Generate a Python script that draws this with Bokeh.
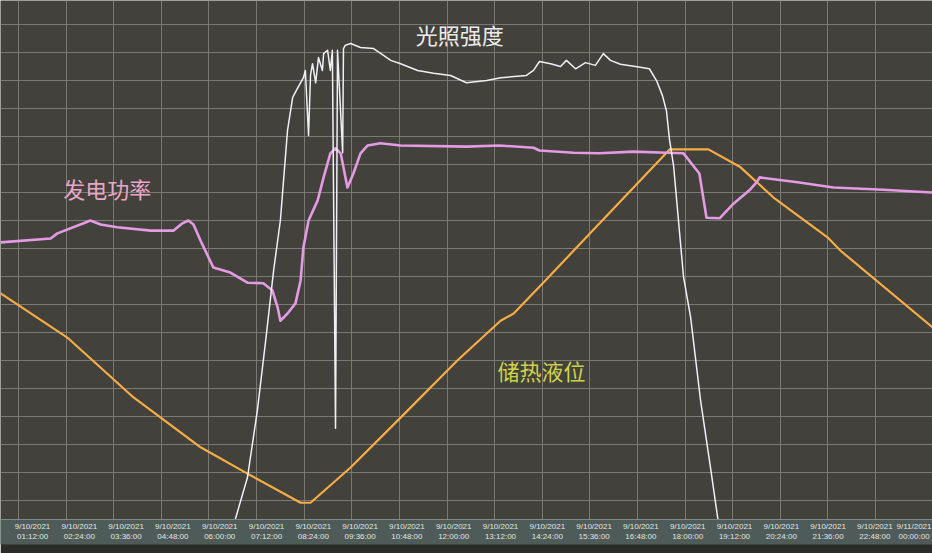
from bokeh.plotting import figure
from bokeh.models import Range1d, FixedTicker, Grid, Label
from bokeh.embed import file_html
from bokeh.resources import INLINE

# ---- time axis (hours since 9/10/2021 00:00) ----
tick_hours = [1.2, 2.4, 3.6, 4.8, 6.0, 7.2, 8.4, 9.6, 10.8, 12.0, 13.2, 14.4,
              15.6, 16.8, 18.0, 19.2, 20.4, 21.6, 22.8, 24.0]
tick_labels = ["9/10/2021\n01:12:00", "9/10/2021\n02:24:00", "9/10/2021\n03:36:00",
               "9/10/2021\n04:48:00", "9/10/2021\n06:00:00", "9/10/2021\n07:12:00",
               "9/10/2021\n08:24:00", "9/10/2021\n09:36:00", "9/10/2021\n10:48:00",
               "9/10/2021\n12:00:00", "9/10/2021\n13:12:00", "9/10/2021\n14:24:00",
               "9/10/2021\n15:36:00", "9/10/2021\n16:48:00", "9/10/2021\n18:00:00",
               "9/10/2021\n19:12:00", "9/10/2021\n20:24:00", "9/10/2021\n21:36:00",
               "9/10/2021\n22:48:00", "9/11/2021\n00:00:00"]

# ---- 光照强度 (irradiance, % of screen scale) ----
sun_t = [6.62, 6.67, 6.97, 7.22, 7.43, 7.63, 7.80, 7.98, 8.11, 8.23, 8.38, 8.43,
         8.51, 8.56, 8.61, 8.69, 8.76, 8.86, 8.89, 8.99, 9.06, 9.11, 9.19, 9.24,
         9.37, 9.39, 9.44, 9.57, 9.82, 10.15, 10.40, 10.58, 10.83, 11.26, 11.66,
         12.09, 12.49, 13.00, 13.35, 14.00, 14.18, 14.33, 14.61, 14.86, 15.01,
         15.24, 15.49, 15.74, 15.94, 16.12, 16.37, 16.75, 17.10, 17.28, 17.43,
         17.53, 17.61, 17.71, 17.96, 18.14, 18.39, 18.64, 18.82, 18.90]
sun_v = [-5.0, -3.2, 4.1, 16.1, 28.6, 41.1, 50.0, 66.1, 72.0, 73.6, 75.5, 76.8,
         65.2, 76.0, 78.0, 74.6, 79.1, 76.8, 79.8, 80.4, 76.8, 80.4, 12.9, 80.4,
         62.1, 80.7, 81.3, 81.6, 80.9, 80.7, 79.5, 78.6, 78.0, 76.8, 76.3,
         75.9, 74.6, 75.0, 75.5, 75.9, 76.8, 78.4, 78.0, 77.5, 78.6,
         77.1, 78.2, 77.7, 79.8, 78.6, 77.9, 77.5, 77.1, 75.0, 72.3,
         69.6, 64.3, 59.8, 40.0, 32.7, 17.9, 5.9, -3.0, -5.4]

# ---- 发电功率 (generation power) ----
pow_t = [0.75, 2.01, 2.18, 2.84, 3.01, 3.27, 3.69, 4.53, 5.11, 5.33, 5.48, 5.61,
         5.79, 6.11, 6.54, 6.97, 7.37, 7.60, 7.73, 7.80, 7.98, 8.18, 8.31, 8.38,
         8.51, 8.74, 8.89, 9.06, 9.19, 9.32, 9.49, 9.64, 9.82, 10.00, 10.32,
         10.83, 12.49, 13.32, 14.18, 14.33, 15.19, 15.84, 16.70, 17.53, 17.96,
         18.36, 18.54, 18.87, 19.22, 19.62, 19.80, 19.88, 20.88, 21.74, 23.00, 24.24]
pow_v = [46.1, 46.8, 47.7, 49.5, 50.0, 49.3, 48.8, 48.2, 48.2, 49.5, 50.0, 49.3,
         46.4, 41.6, 40.7, 38.9, 38.8, 37.5, 34.5, 32.1, 33.4, 35.2, 39.3, 45.2,
         50.0, 53.6, 57.7, 62.0, 62.9, 62.0, 55.9, 58.4, 62.0, 63.4, 63.8,
         63.4, 63.2, 63.4, 63.0, 62.5, 62.1, 62.0, 62.3, 62.1, 62.0,
         58.4, 50.5, 50.4, 53.0, 55.4, 56.8, 57.7, 56.8, 55.9, 55.5, 55.0]

# ---- 储热液位 (heat-storage level) ----
lvl_t = [0.75, 2.43, 4.10, 5.79, 6.97, 8.31, 8.56, 9.57, 10.83, 12.26, 13.35,
         13.68, 14.48, 17.61, 18.59, 19.40, 20.23, 21.59, 21.92, 24.24]
lvl_v = [37.0, 29.1, 18.4, 9.5, 4.8, -0.4, -0.4, 5.9, 14.8, 25.0, 32.1,
         33.4, 39.3, 62.7, 62.7, 59.5, 54.1, 47.0, 44.6, 30.9]

grid_levels = [0, 5, 10, 15, 20, 25, 30, 35, 40, 45, 50, 55, 60, 65, 70, 75, 80, 85]

X_START, X_END = 0.746, 24.236
p = figure(width=932, height=553, output_backend="svg", toolbar_location=None,
           x_range=Range1d(X_START, X_END), y_range=Range1d(-3.39, 89.29),
           y_axis_location=None,
           min_border_left=0, min_border_right=0, min_border_top=0, min_border_bottom=34,
           background_fill_color="#42413b", border_fill_color="#2b2b28",
           outline_line_color=None)

# the monitor prints each date label starting at its grid line, and the photo's
# perspective compresses the label row slightly towards the right; the last
# label is squeezed against the right edge
label_pos = [t + 0.353 - 0.0205 * i for i, t in enumerate(tick_hours[:-1])] + [23.77]

ax = p.xaxis[0]
ax.ticker = FixedTicker(ticks=label_pos)
ax.major_label_overrides = {t: s for t, s in zip(label_pos, tick_labels)}
ax.major_label_text_color = "#e2e6e2"
ax.major_label_text_font = "Liberation Sans"
ax.major_label_text_font_size = "8px"
ax.major_label_standoff = 2
ax.major_tick_out = 0
ax.major_tick_in = 0
ax.major_tick_line_color = None
ax.minor_tick_line_color = None
ax.axis_line_color = "#7d8a86"
try:
    ax.background_fill_color = "#4e5b58"
except AttributeError:
    p.border_fill_color = "#4e5b58"

p.xgrid.ticker = FixedTicker(ticks=tick_hours[:-1])
p.xgrid.grid_line_color = "#7a7973"
p.xgrid.grid_line_width = 1
p.add_layout(Grid(dimension=1, ticker=FixedTicker(ticks=grid_levels),
                  grid_line_color="#7a7973", grid_line_width=1))

p.line(lvl_t, lvl_v, line_color="#f7ac45", line_width=2.2, line_join="round")
p.line(pow_t, pow_v, line_color="#e49be4", line_width=2.6, line_join="round")
p.line(sun_t, sun_v, line_color="#eef0f6", line_width=1.5, line_join="round")

p.add_layout(Label(x=11.21, y=80.4, text="光照强度", text_baseline="bottom",
                   text_font="Noto Sans CJK SC", text_font_size="22px",
                   text_color="#ececec"))
p.add_layout(Label(x=2.33, y=53.0, text="发电功率", text_baseline="bottom",
                   text_font="Noto Sans CJK SC", text_font_size="22px",
                   text_color="#eaa6c8"))
p.add_layout(Label(x=13.27, y=20.5, text="储热液位", text_baseline="bottom",
                   text_font="Noto Sans CJK SC", text_font_size="22px",
                   text_color="#cfd34c"))

open("out.html", "w").write(file_html(p, INLINE))
